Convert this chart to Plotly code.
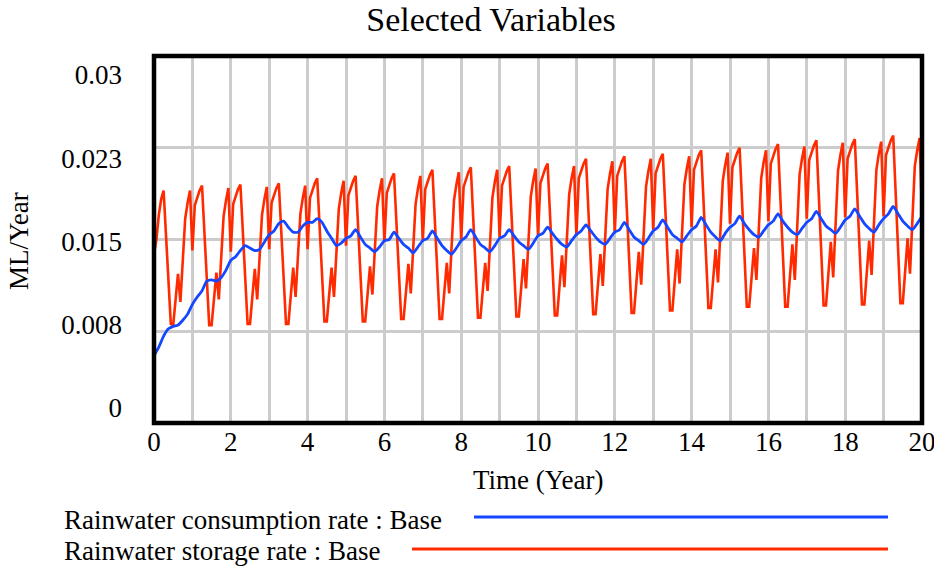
import plotly.graph_objects as go

# ---------------- data ----------------
title_text = "Selected Variables"
x_title = "Time (Year)"
y_title = "ML/Year"
series_names = ["Rainwater consumption rate : Base", "Rainwater storage rate : Base"]
series_colors = ["#1447ff", "#ff2a00"]

x_tick_vals = list(range(21))
x_tick_text = ["0", "", "2", "", "4", "", "6", "", "8", "", "10", "", "12", "", "14", "", "16", "", "18", "", "20"]
y_grid_vals = [0.0075, 0.015, 0.0225]
y_tick_text = ["0", "0.008", "0.015", "0.023", "0.03"]

# Rainwater storage rate, saved every 1/16 year: one row per year (16 values)
storage_by_year = [
    [.0138, .0150, .0170, .0183, .0190, .0153, .0117, .0081, .0080, .0101, .0122, .0099, .0133, .0167, .0180, .0190],
    [.0141, .0178, .0184, .0190, .0194, .0155, .0118, .0080, .0080, .0102, .0123, .0101, .0135, .0169, .0182, .0192],
    [.0140, .0179, .0185, .0191, .0195, .0156, .0119, .0081, .0081, .0104, .0126, .0101, .0136, .0170, .0183, .0193],
    [.0142, .0180, .0186, .0192, .0196, .0157, .0119, .0081, .0081, .0104, .0127, .0103, .0137, .0171, .0184, .0194],
    [.0142, .0184, .0190, .0196, .0200, .0160, .0122, .0083, .0083, .0105, .0127, .0103, .0139, .0175, .0188, .0198],
    [.0145, .0186, .0192, .0198, .0202, .0162, .0122, .0083, .0083, .0106, .0128, .0105, .0141, .0177, .0190, .0200],
    [.0148, .0188, .0194, .0200, .0204, .0164, .0124, .0085, .0085, .0108, .0130, .0106, .0143, .0179, .0192, .0202],
    [.0149, .0191, .0197, .0203, .0207, .0166, .0125, .0085, .0085, .0108, .0131, .0106, .0144, .0182, .0195, .0205],
    [.0150, .0193, .0199, .0205, .0209, .0167, .0127, .0086, .0086, .0109, .0131, .0108, .0146, .0184, .0197, .0207],
    [.0152, .0194, .0200, .0206, .0210, .0168, .0128, .0087, .0087, .0110, .0134, .0110, .0148, .0185, .0198, .0208],
    [.0153, .0196, .0202, .0208, .0212, .0170, .0129, .0088, .0088, .0112, .0137, .0111, .0149, .0187, .0200, .0210],
    [.0153, .0200, .0206, .0212, .0216, .0173, .0131, .0089, .0089, .0113, .0138, .0112, .0151, .0191, .0204, .0214],
    [.0156, .0202, .0208, .0214, .0218, .0174, .0132, .0090, .0090, .0115, .0140, .0113, .0153, .0193, .0206, .0216],
    [.0158, .0204, .0210, .0216, .0220, .0176, .0134, .0092, .0092, .0117, .0142, .0114, .0155, .0195, .0208, .0218],
    [.0160, .0207, .0213, .0219, .0223, .0179, .0137, .0094, .0094, .0118, .0142, .0115, .0157, .0198, .0211, .0221],
    [.0163, .0209, .0215, .0221, .0225, .0181, .0138, .0095, .0095, .0119, .0143, .0117, .0159, .0200, .0213, .0223],
    [.0165, .0212, .0218, .0224, .0228, .0183, .0139, .0095, .0095, .0121, .0146, .0117, .0160, .0203, .0216, .0226],
    [.0167, .0215, .0221, .0227, .0231, .0185, .0141, .0096, .0096, .0122, .0148, .0119, .0163, .0206, .0219, .0229],
    [.0168, .0216, .0222, .0228, .0232, .0186, .0142, .0097, .0097, .0123, .0149, .0121, .0164, .0207, .0220, .0230],
    [.0169, .0219, .0225, .0231, .0235, .0188, .0143, .0098, .0098, .0125, .0151, .0122, .0166, .0210, .0223, .0233],
]
storage_final = .0171

# Rainwater consumption rate, saved every 1/8 year: one row per year (8 values)
consumption_by_year = [
    [.0055, .0062, .0071, .0077, .0079, .0080, .0084, .0089],
    [.0097, .0103, .0108, .0116, .0117, .0116, .0119, .0125],
    [.0133, .0136, .0141, .0145, .0143, .0141, .0142, .0148],
    [.0154, .0157, .0163, .0165, .0160, .0156, .0156, .0161],
    [.0164, .0164, .0167, .0164, .0157, .0151, .0145, .0147],
    [.0151, .0153, .0158, .0152, .0146, .0143, .0140, .0144],
    [.0149, .0150, .0156, .0151, .0146, .0143, .0139, .0144],
    [.0149, .0151, .0157, .0151, .0145, .0141, .0138, .0143],
    [.0149, .0152, .0158, .0152, .0146, .0143, .0140, .0145],
    [.0151, .0153, .0158, .0153, .0148, .0145, .0142, .0147],
    [.0153, .0155, .0160, .0155, .0150, .0146, .0144, .0149],
    [.0154, .0157, .0162, .0157, .0152, .0148, .0146, .0151],
    [.0156, .0158, .0164, .0158, .0152, .0149, .0146, .0151],
    [.0157, .0160, .0166, .0160, .0154, .0151, .0148, .0153],
    [.0158, .0161, .0168, .0162, .0156, .0152, .0149, .0155],
    [.0160, .0163, .0169, .0163, .0158, .0154, .0152, .0157],
    [.0162, .0165, .0171, .0165, .0160, .0156, .0154, .0159],
    [.0164, .0167, .0173, .0167, .0161, .0158, .0155, .0160],
    [.0166, .0169, .0175, .0169, .0163, .0159, .0156, .0162],
    [.0167, .0171, .0177, .0171, .0165, .0161, .0158, .0163],
]
consumption_final = .0169

# ---------------- build series ----------------
storage = [v for row in storage_by_year for v in row] + [storage_final]
storage_t = [i / 16 for i in range(len(storage))]
consumption = [v for row in consumption_by_year for v in row] + [consumption_final]
consumption_t = [i / 8 for i in range(len(consumption))]

FONT = "Liberation Serif, Times New Roman, serif"
GRID = "#cccccc"
FS = 27

fig = go.Figure()
fig.add_trace(go.Scatter(x=storage_t, y=storage, mode="lines", name=series_names[1],
                         line=dict(color=series_colors[1], width=2.6), showlegend=False))
fig.add_trace(go.Scatter(x=consumption_t, y=consumption, mode="lines", name=series_names[0],
                         line=dict(color=series_colors[0], width=2.8, shape="spline", smoothing=0.6),
                         showlegend=False))
# carrier for the label axis
fig.add_trace(go.Scatter(x=[None], y=[None], yaxis="y2", showlegend=False, hoverinfo="skip"))

fig.update_layout(
    width=934, height=566,
    margin=dict(l=154, r=12, t=56, b=143, pad=0, autoexpand=False),
    paper_bgcolor="white", plot_bgcolor="white",
    font=dict(family=FONT, size=FS, color="black"),
    showlegend=False,
    title=dict(text=title_text, x=0.5257, xref="container", xanchor="center",
               y=0.967, yref="container", yanchor="middle",
               font=dict(family=FONT, size=34, color="black")),
    xaxis=dict(range=[0, 20], tickvals=x_tick_vals, ticktext=x_tick_text,
               showgrid=True, gridcolor=GRID, gridwidth=2.5, zeroline=False,
               showline=False, ticks="", tickfont=dict(size=FS), ticklabelstandoff=0,
               ticklabeloverflow="allow", automargin=False),
    yaxis=dict(range=[0, 0.03], tickvals=y_grid_vals, showticklabels=False,
               showgrid=True, gridcolor=GRID, gridwidth=2.5, zeroline=False,
               showline=False, ticks="", automargin=False),
    yaxis2=dict(overlaying="y", side="left", anchor="x", range=[-0.18, 4.228],
                tickvals=[0, 1, 2, 3, 4], ticktext=y_tick_text, showgrid=False,
                zeroline=False, showline=False, ticks="", tickfont=dict(size=FS),
                ticklabelstandoff=31, automargin=False),
)

# plot frame
fig.add_shape(type="rect", xref="paper", yref="paper", x0=0, x1=1, y0=0, y1=1,
              line=dict(color="black", width=4.5), layer="above")

# axis titles
fig.add_annotation(text=x_title, xref="paper", yref="paper", x=0.5, y=-0.1553,
                   xanchor="center", yanchor="middle", showarrow=False,
                   font=dict(family=FONT, size=FS))
fig.add_annotation(text=y_title, xref="paper", yref="paper", x=-0.1758, y=0.496,
                   xanchor="center", yanchor="middle", textangle=-90, showarrow=False,
                   font=dict(family=FONT, size=FS))

# legend below the plot (text followed by a long line sample)
legend_rows = [(-0.2643, -0.2561, 0.4167), (-0.3488, -0.3433, 0.3359)]
for name, color, (ty, ly, lx0) in zip(series_names, series_colors, legend_rows):
    fig.add_annotation(text=name, xref="paper", yref="paper", x=-0.1198, y=ty,
                       xanchor="left", yanchor="middle", showarrow=False,
                       font=dict(family=FONT, size=FS))
    fig.add_shape(type="line", xref="paper", yref="paper", x0=lx0, x1=0.9557, y0=ly, y1=ly,
                  line=dict(color=color, width=3))

# remove the default page margin so the 934x566 figure fills the window exactly
fig.write_html("out.html", config={"displayModeBar": False},
               post_script="document.body.style.margin='0px';")
